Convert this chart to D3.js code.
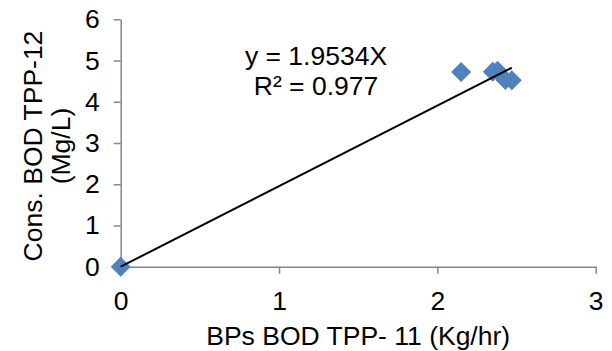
<!DOCTYPE html>
<html>
<head>
<meta charset="utf-8">
<script src="https://cdn.jsdelivr.net/npm/d3@7"></script>
<style>
  html, body { margin: 0; padding: 0; background: #fff; }
  svg { display: block; font-family: "Liberation Sans", Arial, sans-serif; }
</style>
</head>
<body>
<div id="chart"></div>
<script>
// BPs BOD TPP-11 (x) vs Cons. BOD TPP-12 (y)
const xValues = [0, 2.15, 2.35, 2.38, 2.43, 2.47];
const yValues = [0, 4.72, 4.73, 4.75, 4.53, 4.52];
const xTicks = [0, 1, 2, 3];
const yTicks = [0, 1, 2, 3, 4, 5, 6];
const slope = 1.9534;
const eqLines = ['y = 1.9534X', 'R² = 0.977'];

const width = 612, height = 351;
const margin = { top: 19.3, right: 16.3, bottom: 84.3, left: 120.7 };
const fontSize = 26.5;
const axisColor = '#868686';
const markerColor = '#4f81bd';

const points = xValues.map((x, i) => ({ x, y: yValues[i] }));

const svg = d3.select('#chart')
  .append('svg')
  .attr('width', width)
  .attr('height', height);

const x = d3.scaleLinear()
  .domain([0, 3])
  .range([margin.left, width - margin.right]);

const y = d3.scaleLinear()
  .domain([0, 6])
  .range([height - margin.bottom, margin.top]);

// Y axis
const yAxis = svg.append('g')
  .attr('transform', `translate(${x(0)},0)`)
  .call(d3.axisLeft(y).tickValues(yTicks).tickFormat(d3.format('d'))
    .tickSize(7).tickSizeOuter(0).tickPadding(14));

// X axis
const xAxis = svg.append('g')
  .attr('transform', `translate(0,${y(0)})`)
  .call(d3.axisBottom(x).tickValues(xTicks).tickFormat(d3.format('d'))
    .tickSize(7).tickSizeOuter(0).tickPadding(17));

[xAxis, yAxis].forEach(g => {
  g.select('.domain').attr('stroke', axisColor).attr('stroke-width', 1.5);
  g.selectAll('.tick line').attr('stroke', axisColor).attr('stroke-width', 1.5);
  g.selectAll('.tick text')
    .attr('fill', '#000')
    .style('font-size', fontSize + 'px')
    .style('font-family', '"Liberation Sans", Arial, sans-serif');
});

// markers (diamonds)
svg.append('g')
  .selectAll('path')
  .data(points)
  .join('path')
  .attr('transform', d => `translate(${x(d.x)},${y(d.y)})`)
  .attr('d', 'M0,-10L10,0L0,10L-10,0Z')
  .attr('fill', markerColor);

// trend line through origin
const xMax = d3.max(xValues);
svg.append('line')
  .attr('x1', x(0))
  .attr('y1', y(0))
  .attr('x2', x(xMax))
  .attr('y2', y(slope * xMax))
  .attr('stroke', '#000')
  .attr('stroke-width', 2);

// equation label
svg.append('g')
  .selectAll('text')
  .data(eqLines)
  .join('text')
  .attr('x', 316)
  .attr('y', (d, i) => 65 + i * 30)
  .attr('text-anchor', 'middle')
  .style('font-size', fontSize + 'px')
  .text(d => d);

// axis titles
svg.append('text')
  .attr('x', (x(0) + x(3)) / 2)
  .attr('y', 345)
  .attr('text-anchor', 'middle')
  .style('font-size', fontSize + 'px')
  .text('BPs BOD TPP- 11 (Kg/hr)');

const yTitle = svg.append('text')
  .attr('transform', 'translate(0,146) rotate(-90)')
  .attr('text-anchor', 'middle')
  .style('font-size', fontSize + 'px');
yTitle.append('tspan').attr('x', 0).attr('y', 42).text('Cons. BOD TPP-12');
yTitle.append('tspan').attr('x', 0).attr('y', 70).text('(Mg/L)');
</script>
</body>
</html>
